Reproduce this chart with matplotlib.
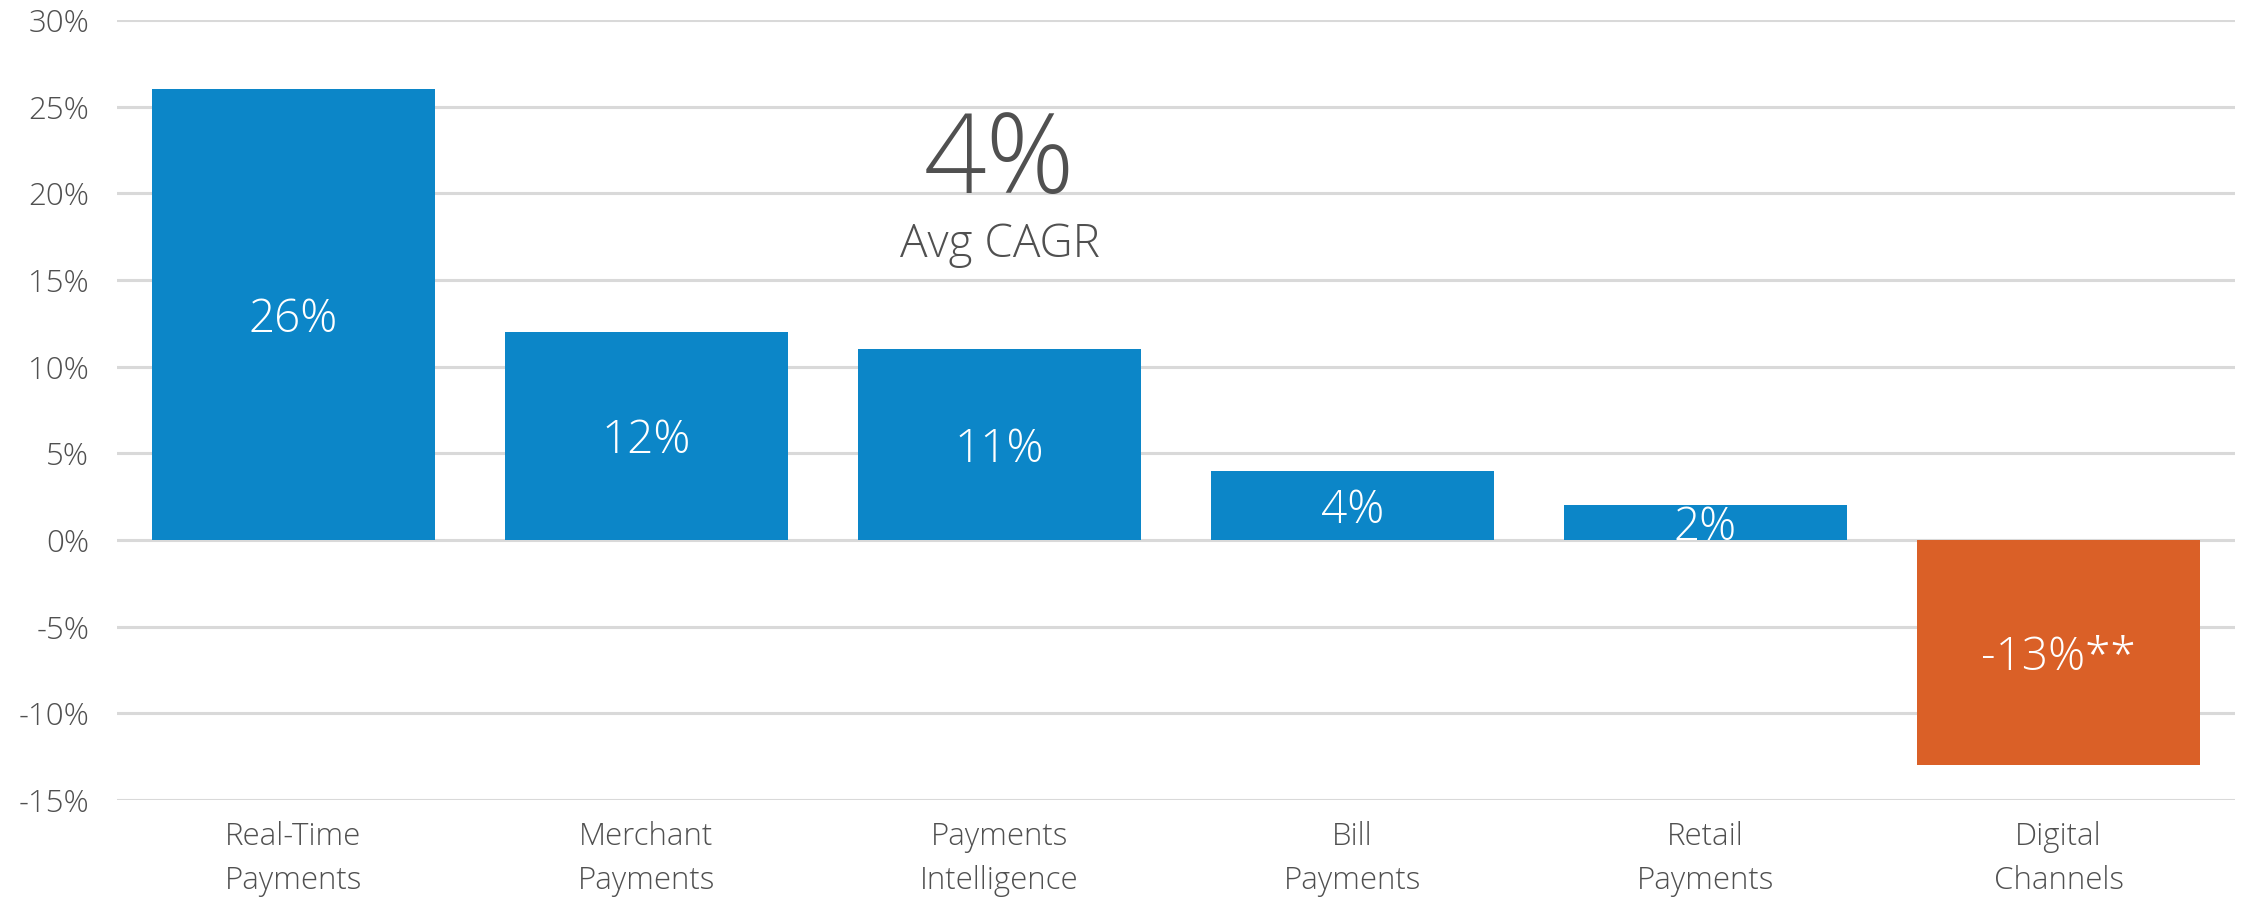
import matplotlib
matplotlib.use("Agg")
import matplotlib.pyplot as plt
from matplotlib.ticker import FuncFormatter

# CAGR by segment (percent)
categories = ["Real-Time\nPayments", "Merchant\nPayments", "Payments\nIntelligence",
              "Bill\nPayments", "Retail\nPayments", "Digital\nChannels"]
values = [26, 12, 11, 4, 2, -13]
bar_labels = ["26%", "12%", "11%", "4%", "2%", "-13%**"]
avg_cagr = "4%"
y_ticks = [-15, -10, -5, 0, 5, 10, 15, 20, 25, 30]

BLUE = "#0C86C8"
ORANGE = "#DA6027"
GREY_TXT = "#505050"
GRID = "#D9D9D9"

plt.rcParams['font.family'] = ['Open Sans', 'DejaVu Sans']
plt.rcParams['font.weight'] = 'light'

fig = plt.figure(figsize=(22.42, 9.01), dpi=100)
ax = fig.add_axes([117 / 2242, 101 / 901, 2118 / 2242, 780 / 901])

colors = [BLUE if v >= 0 else ORANGE for v in values]
x = range(len(categories))
bars = ax.bar(x, values, width=0.8, color=colors, zorder=3)

for b, lab in zip(bars, bar_labels):
    ax.text(b.get_x() + b.get_width() / 2, b.get_height() / 2, lab,
            ha="center", va="center_baseline", color="white", fontsize=33,
            fontweight="light", zorder=4)

ax.set_xlim(-0.5, 5.5)
ax.set_ylim(-15, 30)
ax.set_yticks(y_ticks)
ax.yaxis.set_major_formatter(FuncFormatter(lambda v, p: f"{int(v)}%"))
ax.set_xticks(list(x))
ax.set_xticklabels(categories, linespacing=1.5, fontweight="light")
for t in ax.get_yticklabels():
    t.set_fontweight("light")

ax.grid(axis="y", color=GRID, linewidth=2.2, zorder=0)
ax.set_axisbelow(True)
for s in ax.spines.values():
    s.set_visible(False)
ax.tick_params(axis="both", length=0, labelsize=22.5, colors=GREY_TXT)
ax.tick_params(axis="y", pad=20)
ax.tick_params(axis="x", pad=15)

# average annotation
ax.text(2.0, 20.0, avg_cagr, ha="center", va="baseline", fontsize=79,
        color=GREY_TXT, fontweight="light")
ax.text(2.0, 16.3, "Avg CAGR", ha="center", va="baseline", fontsize=33,
        color=GREY_TXT, fontweight="light")

fig.savefig("out.png", dpi=100)
